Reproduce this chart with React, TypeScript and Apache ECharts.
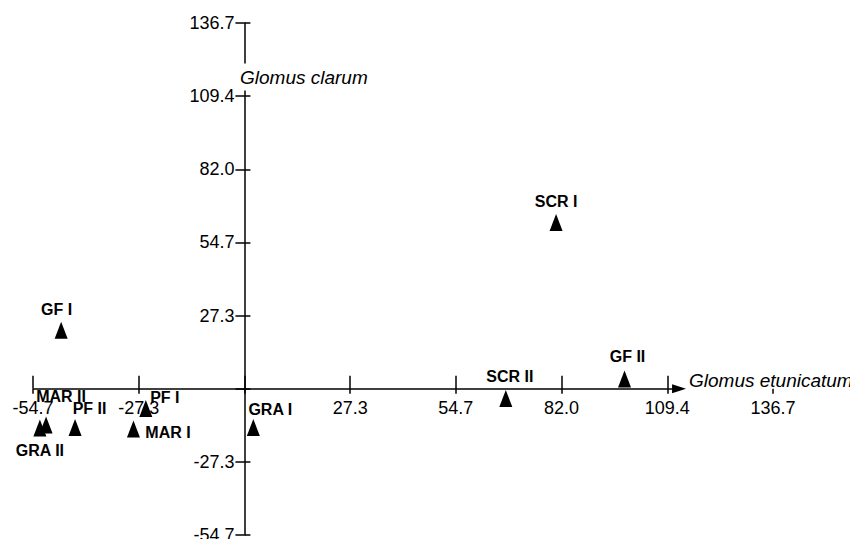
import React, { useEffect, useRef } from "react";
import * as echarts from "echarts";

const sites = ["GF I", "GF II", "MAR I", "MAR II", "PF I", "PF II", "GRA I", "GRA II", "SCR I", "SCR II"];
const glomusEtunicatum = [-47.4, 98.3, -28.7, -51.3, -25.5, -43.8, 2.3, -52.9, 80.6, 67.6];
const glomusClarum = [21.9, 3.6, -15.1, -13.6, -7.4, -14.5, -14.5, -14.7, 62.1, -3.7];
const tickValues = [-54.68, -27.34, 0, 27.34, 54.68, 82.02, 109.36, 136.7];
const tickLabelValues = [-54.68, -27.34, 27.34, 54.68, 82.02, 109.36, 136.7];

// label placement (styling, pixels relative to each triangle)
const labelOffsets: number[][] = [
  [-4.5, -21],
  [3, -23],
  [34.5, 3],
  [15, -29],
  [19, -11],
  [14.5, -19.5],
  [17, -18.5],
  [0, 22],
  [0, -21.5],
  [4, -22.5],
];

const FONT = '"Liberation Sans", Arial, Helvetica, sans-serif';
const AXIS_MIN = -54.68;
const AXIS_MAX = 136.7;
const STEP = 27.34;
const ARROW_END = 112.4;

const GRID = { left: 33, right: 77, top: 23, bottom: 4 };
const W = 850;
const H = 539;

export default function App() {
  const ref = useRef<HTMLDivElement>(null);
  useEffect(() => {
    if (!ref.current) return;
    const chart = echarts.init(ref.current, undefined, { renderer: "svg" });
    const gw = W - GRID.left - GRID.right;
    const gh = H - GRID.top - GRID.bottom;
    const zx = ((0 - AXIS_MIN) / (AXIS_MAX - AXIS_MIN)) * gw; // from grid left
    const zy = ((AXIS_MAX - 0) / (AXIS_MAX - AXIS_MIN)) * gh; // from grid top
    const lineStyle = { color: "#000", width: 1.5 };
    const fmt = (v: number) => (Math.abs(v) < 1e-6 ? "" : v.toFixed(1));
    const labelStyle = { color: "#000", fontSize: 18, fontFamily: FONT, formatter: fmt, margin: 10 };
    const base = { type: "value", min: AXIS_MIN, max: AXIS_MAX, interval: STEP, splitLine: { show: false } };
    chart.setOption({
      animation: false,
      backgroundColor: "#fff",
      grid: { ...GRID, containLabel: false, outerBoundsMode: "none" },
      xAxis: [
        {
          ...base,
          position: "top",
          offset: -zy,
          axisLine: { show: false, onZero: false },
          axisTick: { show: true, inside: false, length: 13, customValues: tickValues.filter((v) => v < 130), lineStyle },
          axisLabel: { show: false },
        },
        {
          ...base,
          position: "bottom",
          offset: -(gh - zy),
          axisLine: { show: false, onZero: false },
          axisTick: { show: true, inside: false, length: 5, customValues: tickValues, lineStyle },
          axisLabel: { show: true, customValues: tickLabelValues, ...labelStyle },
        },
      ],
      yAxis: [
        {
          ...base,
          position: "left",
          offset: -zx,
          axisLine: { show: true, onZero: false, lineStyle },
          axisTick: { show: true, inside: false, length: 9, customValues: tickValues, lineStyle },
          axisLabel: { show: true, customValues: tickLabelValues, ...labelStyle },
        },
        {
          ...base,
          position: "right",
          offset: -(gw - zx),
          axisLine: { show: false, onZero: false },
          axisTick: { show: true, inside: false, length: 6, customValues: tickValues, lineStyle },
          axisLabel: { show: false },
        },
      ],
      series: [
        {
          type: "scatter",
          xAxisIndex: 1,
          yAxisIndex: 0,
          symbol: "triangle",
          symbolSize: [13, 17],
          itemStyle: { color: "#000", opacity: 1 },
          label: {
            show: true,
            position: "inside",
            formatter: "{b}",
            color: "#000",
            fontWeight: "bold",
            fontSize: 16,
            fontFamily: FONT,
          },
          data: sites.map((name, i) => ({
            name,
            value: [glomusEtunicatum[i], glomusClarum[i]],
            label: { offset: labelOffsets[i] },
          })),
          markLine: {
            silent: true,
            symbol: ["none", "triangle"],
            symbolSize: [9, 14],
            label: { show: false },
            lineStyle: { color: "#000", width: 1.5, type: "solid", opacity: 1 },
            itemStyle: { color: "#000" },
            data: [[{ coord: [AXIS_MIN, 0] }, { coord: [ARROW_END, 0] }]],
          },
          z: 3,
        },
      ],
      graphic: [
        {
          type: "text",
          z: 10,
          style: {
            text: "Glomus clarum",
            x: 238,
            y: 77,
            verticalAlign: "middle",
            fontStyle: "italic",
            fontSize: 19,
            fontFamily: FONT,
            fill: "#000",
            backgroundColor: "#fff",
            padding: [4, 2, 4, 2],
          },
        },
        {
          type: "text",
          z: 10,
          style: {
            text: "Glomus etunicatum",
            x: 689,
            y: 380,
            verticalAlign: "middle",
            fontStyle: "italic",
            fontSize: 19,
            fontFamily: FONT,
            fill: "#000",
          },
        },
      ],
    });
    return () => chart.dispose();
  }, []);
  return <div ref={ref} style={{ position: "absolute", left: 0, top: 0, width: W, height: H }} />;
}
